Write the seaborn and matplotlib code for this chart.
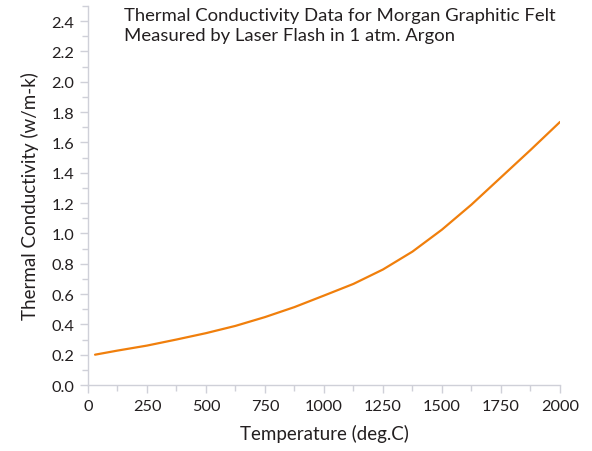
import numpy as np
import matplotlib
matplotlib.use("Agg")
import matplotlib.pyplot as plt
import seaborn as sns
import pandas as pd
from matplotlib.ticker import MultipleLocator

temperature = [30, 125, 250, 375, 500, 625, 750, 875, 1000, 1125, 1250, 1375, 1500, 1625, 1750, 1875, 2000]
conductivity = [0.20, 0.227, 0.26, 0.30, 0.342, 0.39, 0.448, 0.514, 0.59, 0.667, 0.762, 0.88, 1.025, 1.19, 1.37, 1.55, 1.735]

TITLE = "Thermal Conductivity Data for Morgan Graphitic Felt\nMeasured by Laser Flash in 1 atm. Argon"
XLABEL = "Temperature (deg.C)"
YLABEL = "Thermal Conductivity (w/m-k)"

TEXT_COLOR = "#231f20"
AXIS_COLOR = "#cfd0d8"
LINE_COLOR = "#f07f0c"

sns.set_style("white")
plt.rcParams["font.family"] = ["Lato", "DejaVu Sans"]

df = pd.DataFrame({"temp": temperature, "k": conductivity})

fig = plt.figure(figsize=(5.92, 4.52), dpi=100)
ax = fig.add_axes([0.1486, 0.146, 0.7973, 0.8385])
sns.lineplot(data=df, x="temp", y="k", color=LINE_COLOR, linewidth=1.6, ax=ax)

ax.set_xlim(0, 2000)
ax.set_ylim(0, 2.5)
ax.xaxis.set_major_locator(MultipleLocator(250))
ax.xaxis.set_minor_locator(MultipleLocator(125))
ax.yaxis.set_major_locator(MultipleLocator(0.2))
ax.yaxis.set_minor_locator(MultipleLocator(0.1))
ax.yaxis.set_major_formatter(matplotlib.ticker.FormatStrFormatter("%.1f"))
ax.set_yticks(np.arange(0, 2.41, 0.2))

for s in ["top", "right"]:
    ax.spines[s].set_visible(False)
for s in ["left", "bottom"]:
    ax.spines[s].set_color(AXIS_COLOR)
    ax.spines[s].set_linewidth(1.0)

ax.tick_params(which="both", direction="out", color=AXIS_COLOR, width=1.0,
               labelcolor=TEXT_COLOR, labelsize=11.8, left=True, bottom=True)
ax.tick_params(which="major", length=6, pad=4)
ax.tick_params(which="minor", length=4)

ax.set_xlabel(XLABEL, fontsize=13.5, color=TEXT_COLOR, labelpad=8)
ax.set_ylabel(YLABEL, fontsize=13.5, color=TEXT_COLOR, labelpad=9)

ax.text(0.077, 0.997, TITLE, transform=ax.transAxes, ha="left", va="top",
        fontsize=13.3, color=TEXT_COLOR, linespacing=1.3)

plt.savefig("out.png", dpi=100)
